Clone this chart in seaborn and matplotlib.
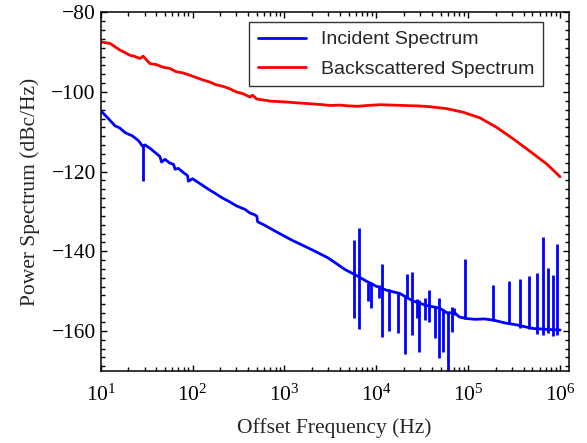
import numpy as np
import pandas as pd
import matplotlib
matplotlib.use('Agg')
import matplotlib.pyplot as plt
from matplotlib.ticker import AutoMinorLocator, LogLocator, NullFormatter
import seaborn as sns

# ────────────────────────────────────────────────
# DATA
# ────────────────────────────────────────────────
# backscattered spectrum (red)
red_freq = [10, 11, 12.6, 14, 16.2, 18, 20.8, 23, 26.8, 29,
            31, 34.4, 40, 48, 56.8, 66, 78, 93.6, 110, 130,
            154, 180, 215, 254, 300, 350, 400, 419, 450, 500,
            586, 700, 850, 1150, 1500, 2000, 2620, 3130, 4000, 5000,
            6220, 8000, 11000, 15000, 20000, 28000, 38500, 58500, 88500, 134000,
            204000, 310000, 470000, 716000, 1000000]
red_db = [-87.4, -87.6, -87.8, -88.5, -89.5, -90.0, -90.8, -91.0, -91.6, -91.0,
          -91.8, -92.9, -93.1, -93.8, -94.1, -94.9, -95.2, -95.8, -96.4, -97.0,
          -97.5, -98.2, -98.6, -99.2, -100.0, -100.4, -101.0, -101.3, -100.8, -101.8,
          -102.0, -102.3, -102.4, -102.6, -102.8, -103.0, -103.2, -103.4, -103.3, -103.5,
          -103.6, -103.4, -103.2, -103.3, -103.4, -103.5, -103.7, -104.2, -105.1, -106.5,
          -108.9, -111.8, -114.9, -118.1, -121.3]

# incident spectrum (blue), smooth part
inc_freq = [10, 12, 14.3, 16, 18.4, 20, 22, 25.7, 28.5, 30.4,
            35, 40, 44, 46, 50, 56, 62, 64.5, 70, 80,
            88, 90, 100, 120, 148, 180, 210, 245, 300, 372,
            420, 470, 500, 510, 600, 860, 1200, 1980, 3000, 4560,
            6000, 7900, 10000, 13000, 18000, 25000, 35000, 49000, 60000, 70000,
            80000, 95600, 120000, 150000, 189000, 250000, 339000, 420000, 510000, 700000,
            1000000]
inc_db = [-104.7, -106.6, -108.5, -109.0, -110.2, -110.6, -111.0, -112.2, -113.6, -113.3,
          -114.3, -115.4, -116.2, -117.6, -116.9, -117.8, -118.2, -119.4, -119.2, -120.3,
          -121.0, -122.4, -121.8, -123.0, -124.4, -125.6, -126.6, -127.4, -128.6, -129.5,
          -130.4, -130.8, -131.2, -132.6, -133.4, -135.4, -137.2, -139.6, -141.7, -144.6,
          -146.0, -147.6, -148.8, -149.8, -150.6, -152.5, -153.6, -154.3, -155.6, -155.3,
          -156.5, -156.9, -157.1, -157.0, -157.3, -158.0, -158.5, -159.0, -159.4, -159.6,
          -159.8]

# incident spectrum spurs: frequency, lowest and highest level
spur_freq = [29, 5720, 6530, 8050, 8690, 10700, 11500, 13900, 17400, 20700,
             21800, 24700, 27500, 29400, 33900, 37700, 43500, 48200, 53700, 60800,
             66200, 70200, 92500, 185000, 279000, 367000, 464000, 557000, 648000, 746000,
             846000, 935000]
spur_lo = [-122.3, -156.8, -159.6, -152.6, -154.2, -151.8, -161.5, -160.0, -160.6, -165.7,
           -151.5, -161.1, -156.8, -165.4, -157.3, -157.7, -161.9, -166.9, -165.3, -171.0,
           -160.2, -156.0, -157.0, -157.5, -158.3, -159.2, -159.5, -160.8, -161.0, -160.5,
           -161.2, -161.0]
spur_hi = [-113.0, -137.2, -134.1, -148.0, -147.8, -148.5, -143.2, -149.5, -150.3, -151.0,
           -145.7, -145.1, -152.0, -152.3, -151.8, -149.7, -153.8, -151.8, -154.5, -155.0,
           -153.9, -154.2, -141.9, -148.4, -147.4, -146.9, -146.2, -145.5, -136.5, -144.2,
           -145.9, -138.2]

BLUE = '#0000ff'
RED = '#ff0000'
LW = 2.0

# ────────────────────────────────────────────────
# STYLE
# ────────────────────────────────────────────────
sns.set_style('ticks')
plt.rcParams['font.family'] = ['Liberation Serif', 'DejaVu Serif']
plt.rcParams['mathtext.fontset'] = 'stix'

fig = plt.figure(figsize=(5.87, 4.43), dpi=100)
ax = fig.add_axes([0.1716, 0.1632, 0.7972, 0.809])

inc = pd.DataFrame({'f': inc_freq, 'db': inc_db})
back = pd.DataFrame({'f': red_freq, 'db': red_db})

sns.lineplot(data=inc, x='f', y='db', ax=ax, color=BLUE, lw=LW,
             label='Incident Spectrum', estimator=None)
ax.vlines(spur_freq, spur_lo, spur_hi, color=BLUE, lw=LW)
sns.lineplot(data=back, x='f', y='db', ax=ax, color=RED, lw=LW,
             label='Backscattered Spectrum', estimator=None)

ax.set_xscale('log')
ax.set_xlim(10, 1.24e6)
ax.set_ylim(-170, -80)
ax.set_yticks([-160, -140, -120, -100, -80])
ax.yaxis.set_minor_locator(AutoMinorLocator(9))
ax.xaxis.set_major_locator(LogLocator(base=10, numticks=10))
ax.xaxis.set_minor_locator(LogLocator(base=10, subs=np.arange(2, 10), numticks=20))
ax.xaxis.set_minor_formatter(NullFormatter())

ax.tick_params(which='both', direction='in', top=True, right=True,
               width=1.0, colors='black', labelsize=15.5)
ax.tick_params(which='major', length=4.5)
ax.tick_params(which='minor', length=2.6)
ax.tick_params(axis='x', which='major', pad=10)
for s in ax.spines.values():
    s.set_linewidth(1.1)
    s.set_color('black')

ax.set_xlabel('Offset Frequency (Hz)', fontsize=15.5, labelpad=9)
ax.set_ylabel('Power Spectrum (dBc/Hz)', fontsize=15.5, labelpad=8)

leg = ax.legend(loc='upper right', bbox_to_anchor=(0.945, 0.973), borderaxespad=0,
                frameon=True, fancybox=False, framealpha=1, edgecolor='#333333',
                prop={'family': 'Liberation Sans', 'size': 14},
                handlelength=2.47, handletextpad=0.77, labelspacing=0.6,
                borderpad=0.45)
leg.get_frame().set_linewidth(1.0)

fig.savefig('out.png', dpi=100)
